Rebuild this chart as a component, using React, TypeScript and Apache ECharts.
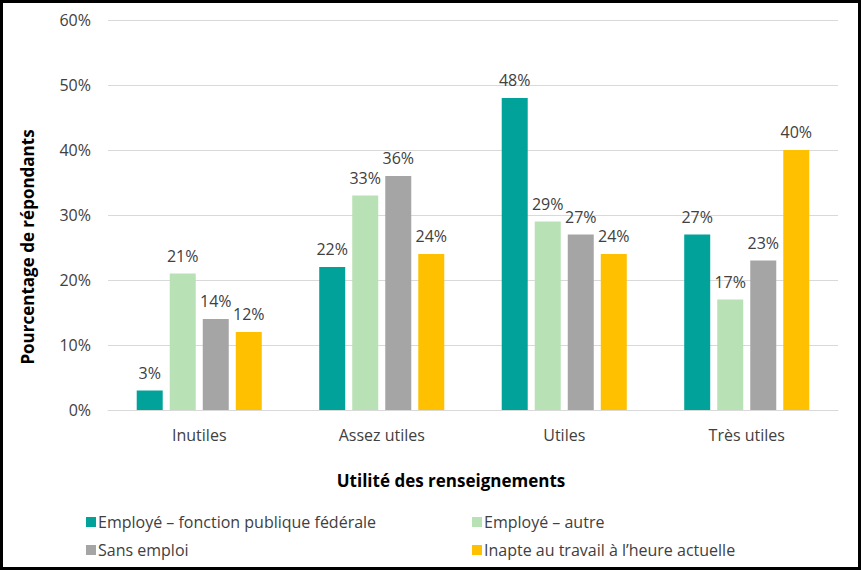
import React, { useEffect, useRef } from "react";
import * as echarts from "echarts";

const categories = ["Inutiles", "Assez utiles", "Utiles", "Très utiles"];
const seriesNames = [
  "Employé – fonction publique fédérale",
  "Employé – autre",
  "Sans emploi",
  "Inapte au travail à l’heure actuelle",
];
const federal = [3, 22, 48, 27];
const otherEmployed = [21, 33, 29, 17];
const unemployed = [14, 36, 27, 23];
const unable = [12, 24, 24, 40];
const colors = ["#00A29A", "#B8E2B5", "#A5A5A5", "#FFC000"];
const yTicks = { min: 0, max: 60, interval: 10 };

const FONT = "'Open Sans', sans-serif";

export default function App() {
  const ref = useRef<HTMLDivElement>(null);
  useEffect(() => {
    document.body.style.margin = "0";
    const chart = echarts.init(ref.current!, null, { renderer: "svg" });
    const values = [federal, otherEmployed, unemployed, unable];
    const legendPos = [
      { left: 86, top: 514 },
      { left: 472, top: 514 },
      { left: 86, top: 542 },
      { left: 472, top: 542 },
    ];
    chart.setOption({
      animation: false,
      backgroundColor: "#fff",
      textStyle: { fontFamily: FONT },
      grid: { left: 108, right: 23, top: 20, bottom: 160 },
      legend: seriesNames.map((n, i) => ({
        data: [n],
        left: legendPos[i].left,
        top: legendPos[i].top,
        itemWidth: 10,
        itemHeight: 10,
        icon: "rect",
        padding: 0,
        textStyle: { fontFamily: FONT, fontSize: 16, color: "#404040", padding: [0, 0, 0, -3] },
      })),
      xAxis: {
        type: "category",
        data: categories,
        axisLine: { lineStyle: { color: "#D9D9D9", width: 1 } },
        axisTick: { show: false },
        axisLabel: { fontFamily: FONT, fontSize: 16, color: "#404040", margin: 17 },
      },
      yAxis: {
        type: "value",
        min: yTicks.min,
        max: yTicks.max,
        interval: yTicks.interval,
        axisLine: { show: false },
        axisTick: { show: false },
        splitLine: { lineStyle: { color: "#D9D9D9", width: 1 } },
        axisLabel: { fontFamily: FONT, fontSize: 16, color: "#404040", margin: 17, formatter: "{value}%" },
      },
      series: seriesNames.map((n, i) => ({
        name: n,
        type: "bar",
        data: values[i],
        barWidth: 26,
        barGap: "27%",
        itemStyle: { color: colors[i] },
        label: {
          show: true,
          position: "top",
          distance: 10,
          formatter: "{c}%",
          fontFamily: FONT,
          fontSize: 16,
          color: "#404040",
        },
      })),
      graphic: [
        {
          type: "rect",
          shape: { x: 1.5, y: 1.5, width: 858, height: 567 },
          style: { fill: "none", stroke: "#000", lineWidth: 3 },
          silent: true,
        },
        {
          type: "text",
          x: 27,
          y: 247,
          rotation: Math.PI / 2,
          style: {
            text: "Pourcentage de répondants",
            fontFamily: FONT,
            fontSize: 17,
            fontWeight: "bold",
            fill: "#000",
            align: "center",
            verticalAlign: "middle",
          },
        },
        {
          type: "text",
          x: 451,
          y: 480,
          style: {
            text: "Utilité des renseignements",
            fontFamily: FONT,
            fontSize: 17,
            fontWeight: "bold",
            fill: "#000",
            align: "center",
            verticalAlign: "middle",
          },
        },
      ],
    });
    return () => chart.dispose();
  }, []);
  return <div ref={ref} style={{ width: 861, height: 570 }} />;
}
